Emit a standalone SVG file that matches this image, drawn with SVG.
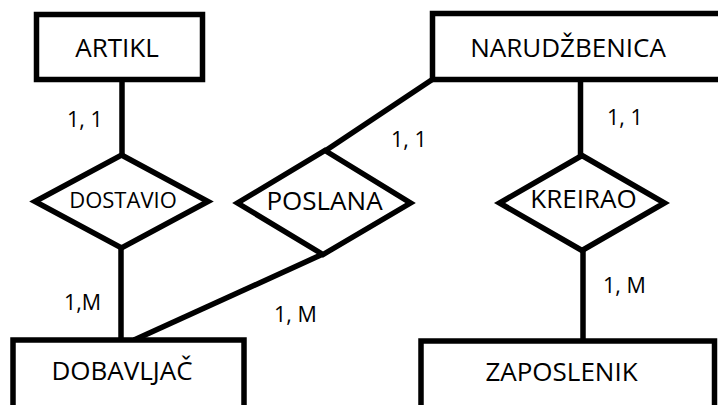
<svg xmlns="http://www.w3.org/2000/svg" width="718" height="405" viewBox="0 0 718 405">
<style>
.ent{fill:#fff;stroke:#000;stroke-width:5.5}
.rel{fill:#fff;stroke:#000;stroke-width:5.5;stroke-linejoin:miter}
.ln{stroke:#000;stroke-width:5.5;fill:none}
text{font-family:"Open Sans","Liberation Sans",sans-serif;fill:#000}
.t{font-size:26px}
.s{font-size:22px}
.c{font-size:21.5px}
</style>
<rect width="718" height="405" fill="#fff"/>
<g id="connectors">
<line class="ln" x1="122" y1="80" x2="122" y2="155"/>
<line class="ln" x1="121" y1="248" x2="121" y2="340"/>
<line class="ln" x1="325" y1="151" x2="433" y2="79"/>
<line class="ln" x1="323" y1="254" x2="134" y2="340"/>
<line class="ln" x1="580.5" y1="80" x2="580.5" y2="156"/>
<line class="ln" x1="583" y1="250" x2="583" y2="341"/>
<text class="c" x="67" y="127">1, 1</text>
<text class="c" x="391" y="147">1, 1</text>
<text class="c" x="607" y="125">1, 1</text>
<text class="c" x="64" y="310">1,M</text>
<text class="c" x="274" y="322">1, M</text>
<text class="c" x="603" y="293">1, M</text>
</g>
<g id="artikl">
<rect class="ent" x="36.5" y="14.5" width="166" height="65"/>
<text class="t" x="117" y="57" text-anchor="middle">ARTIKL</text>
</g>
<g id="narudzbenica">
<rect class="ent" x="432.5" y="13.5" width="300" height="66"/>
<text class="t" x="568" y="57" text-anchor="middle">NARUDŽBENICA</text>
</g>
<g id="dostavio">
<polygon class="rel" points="121.5,155 208,201.5 121.5,248 35,201.5"/>
<text class="s" x="123" y="208" text-anchor="middle">DOSTAVIO</text>
</g>
<g id="poslana">
<polygon class="rel" points="325,150.5 410.5,203 323,254.5 237.5,203"/>
<text class="t" x="324.5" y="210" text-anchor="middle">POSLANA</text>
</g>
<g id="kreirao">
<polygon class="rel" points="582,155.5 664.5,203 582,250.5 499.5,203"/>
<text class="t" x="583.5" y="208" text-anchor="middle">KREIRAO</text>
</g>
<g id="dobavljac">
<rect class="ent" x="13" y="340" width="231" height="80"/>
<text class="t" x="122" y="380" text-anchor="middle">DOBAVLJAČ</text>
</g>
<g id="zaposlenik">
<rect class="ent" x="421" y="341" width="293.5" height="80"/>
<text class="t" x="561.5" y="381" text-anchor="middle">ZAPOSLENIK</text>
</g>
</svg>
